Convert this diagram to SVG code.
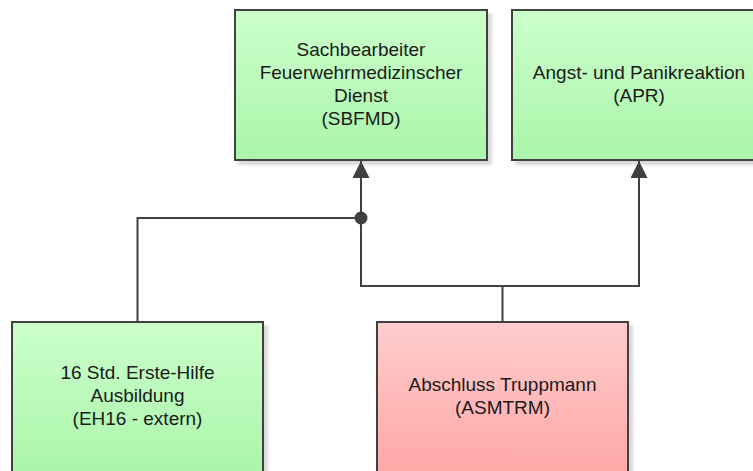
<svg xmlns="http://www.w3.org/2000/svg" width="753" height="471" viewBox="0 0 753 471">
<style>
.box{stroke:#404040;stroke-width:2;filter:url(#sh)}
.g{fill:url(#gg)}
.r{fill:url(#gr)}
.t{font-family:"Liberation Sans",Arial,sans-serif;font-size:19px;fill:#1a1a1a;text-anchor:middle}
.c{fill:none;stroke:#404040;stroke-width:2}
</style>
<defs>
<linearGradient id="gg" x1="0" y1="0" x2="0" y2="1"><stop offset="0" stop-color="#ccffcc"/><stop offset="1" stop-color="#aaf5aa"/></linearGradient>
<linearGradient id="gr" x1="0" y1="0" x2="0" y2="1"><stop offset="0" stop-color="#ffcccc"/><stop offset="1" stop-color="#ffa8a8"/></linearGradient>
<filter id="sh" x="-10%" y="-10%" width="130%" height="130%"><feDropShadow dx="4" dy="4" stdDeviation="1.5" flood-color="#000" flood-opacity="0.15"/></filter>
<marker id="arr" viewBox="0 0 10 10" refX="10" refY="5" markerWidth="17" markerHeight="17" markerUnits="userSpaceOnUse" orient="auto"><path d="M0,0 L10,5 L0,10 z" fill="#404040"/></marker>
</defs>
<g id="SBFMD">
<rect class="box g" x="235" y="10" width="252" height="150"/>
<text class="t" x="361" y="56">Sachbearbeiter</text>
<text class="t" x="361" y="79">Feuerwehrmedizinscher</text>
<text class="t" x="361" y="102">Dienst</text>
<text class="t" x="361" y="125">(SBFMD)</text>
</g>
<g id="APR">
<rect class="box g" x="512" y="10" width="254" height="150"/>
<text class="t" x="639" y="79">Angst- und Panikreaktion</text>
<text class="t" x="639" y="102">(APR)</text>
</g>
<g id="EH16">
<rect class="box g" x="12" y="322" width="251" height="152"/>
<text class="t" x="137.5" y="379">16 Std. Erste-Hilfe</text>
<text class="t" x="137.5" y="402">Ausbildung</text>
<text class="t" x="137.5" y="425">(EH16 - extern)</text>
</g>
<g id="ASMTRM">
<rect class="box r" x="377" y="322" width="251" height="152"/>
<text class="t" x="502.5" y="391">Abschluss Truppmann</text>
<text class="t" x="502.5" y="414">(ASMTRM)</text>
</g>
<g id="connectors">
<path class="c" d="M137.5,322 V218 H361"/>
<path class="c" d="M502.5,322 V286 H361 V161" marker-end="url(#arr)"/>
<path class="c" d="M502.5,286 H639 V161" marker-end="url(#arr)"/>
<circle cx="361" cy="218" r="6.5" fill="#404040"/>
</g>
</svg>
